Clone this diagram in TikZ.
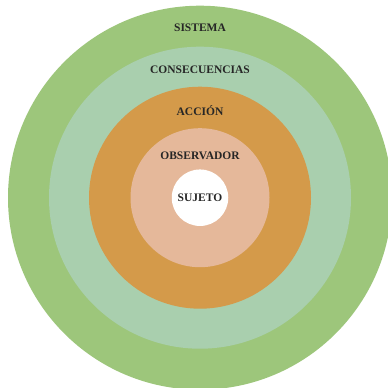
\documentclass[tikz,border=0pt]{standalone}
\usepackage{fontspec}
\setmainfont{Liberation Serif}
\usepackage{tikz}
\usetikzlibrary{positioning}
\definecolor{sistemacol}{RGB}{157,198,123}
\definecolor{consecol}{RGB}{169,207,174}
\definecolor{accioncol}{RGB}{212,154,74}
\definecolor{obscol}{RGB}{229,184,154}
\definecolor{labelcol}{RGB}{38,38,38}

\begin{document}
\begin{tikzpicture}[x=1pt, y=-1pt,
		ring/.style={circle, inner sep=0pt, minimum size=#1},
		lbl/.style={font=\bfseries\fontsize{11.5}{13}\selectfont, text=labelcol}]
		\useasboundingbox (0,0) rectangle (388,388);
		\fill[white] (0,0) rectangle (388,388);
		\clip (0,0) rectangle (388,388);
		
		% rings from outside in, all sharing one centre
		\node[ring=384pt, fill=sistemacol] (sistema) at (200,197.7) {};
		\node[ring=302pt, fill=consecol] (consec) at (sistema.center) {};
		\node[ring=222pt, fill=accioncol] (accion) at (sistema.center) {};
		\node[ring=139pt, fill=obscol] (obs) at (sistema.center) {};
		\node[ring=56.5pt, fill=white] (sujeto) at (sistema.center) {};
		
		\node[lbl] (tsistema) at (200,28) {SISTEMA};
		\node[lbl] (tconsec) at (200,70) {CONSECUENCIAS};
		\node[lbl] (taccion) at (200,111) {ACCIÓN};
		\node[lbl] (tobs) at (200,156) {OBSERVADOR};
		\node[lbl] (tsujeto) at (sujeto.center) {SUJETO};
	\end{tikzpicture}
\end{document}
